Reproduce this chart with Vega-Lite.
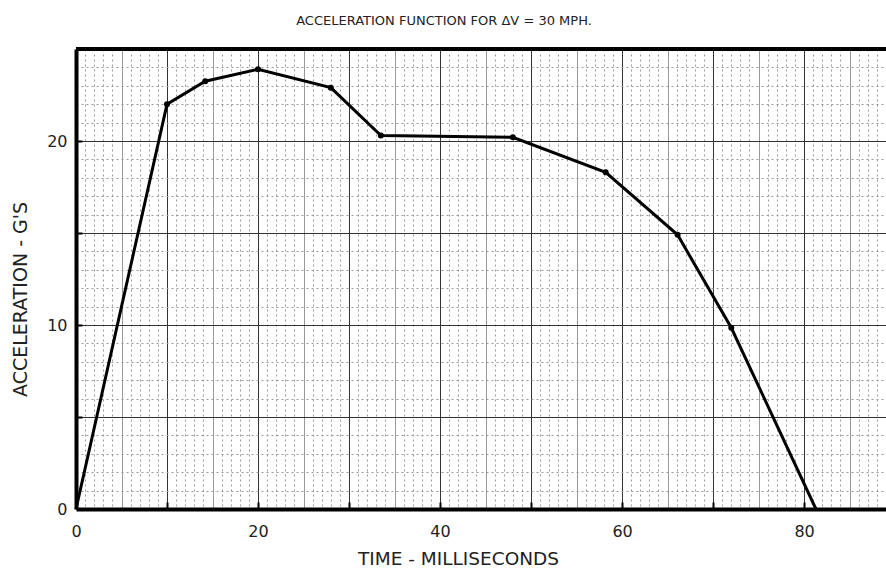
{
  "$schema": "https://vega.github.io/schema/vega-lite/v6.json",
  "width": 810,
  "height": 460,
  "autosize": {"type": "none"},
  "padding": {"left": 76, "top": 49, "right": 0, "bottom": 63},
  "background": "white",
  "config": {"view": {"stroke": null}, "font": "DejaVu Sans"},
  "title": {
    "text": "ACCELERATION FUNCTION FOR ΔV = 30 MPH.",
    "fontSize": 13,
    "fontWeight": "normal",
    "font": "DejaVu Sans",
    "color": "#222",
    "anchor": "middle",
    "frame": "group",
    "dx": -37,
    "offset": 3,
    "baseline": "alphabetic"
  },
  "data": {
    "values": [
      {"time": 0, "acc": 0, "dot": false},
      {"time": 10, "acc": 22, "dot": true},
      {"time": 14.2, "acc": 23.25, "dot": true},
      {"time": 20, "acc": 23.9, "dot": true},
      {"time": 28, "acc": 22.9, "dot": true},
      {"time": 33.5, "acc": 20.3, "dot": true},
      {"time": 48, "acc": 20.2, "dot": true},
      {"time": 58.2, "acc": 18.3, "dot": true},
      {"time": 66.1, "acc": 14.9, "dot": true},
      {"time": 72, "acc": 9.85, "dot": true},
      {"time": 81.3, "acc": 0, "dot": false}
    ]
  },
  "layer": [
    {
      "mark": {"type": "line", "color": "black", "strokeWidth": 3},
      "encoding": {
        "x": {
          "field": "time",
          "type": "quantitative",
          "scale": {"domain": [0, 89], "nice": false, "zero": false},
          "axis": {
            "tickCount": 89,
            "format": "d",
            "labelExpr": "datum.value % 20 === 0 ? datum.label : ''",
            "labelFontSize": 16,
            "labelFont": "DejaVu Sans",
            "labelColor": "#222",
            "labelPadding": 21,
            "labelFlush": false,
            "labelOverlap": false,
            "tickSize": -7,
            "tickWidth": 2,
            "tickColor": "black",
            "tickOpacity": {"condition": {"test": "datum.value % 10 === 0 && datum.value > 0", "value": 1}, "value": 0},
            "domainColor": "black",
            "domainWidth": 4,
            "grid": true,
            "gridColor": {"condition": {"test": "datum.value % 10 === 0", "value": "#333"}, "value": "#999999"},
            "gridDash": {"condition": {"test": "datum.value % 5 === 0", "value": []}, "value": [2, 3]},
            "gridWidth": 1,
            "gridOpacity": 1,
            "title": "TIME - MILLISECONDS",
            "titleFont": "DejaVu Sans",
            "titleFontSize": 18.5,
            "titleFontWeight": "normal",
            "titleColor": "#222",
            "titleX": 382,
            "titleY": 49,
            "titleAlign": "center",
            "titleBaseline": "middle"
          }
        },
        "y": {
          "field": "acc",
          "type": "quantitative",
          "scale": {"domain": [0, 25], "nice": false},
          "axis": {
            "tickCount": 50,
            "format": "d",
            "labelExpr": "datum.value % 10 === 0 ? datum.label : ''",
            "labelFontSize": 16,
            "labelFont": "DejaVu Sans",
            "labelColor": "#222",
            "labelPadding": 15,
            "labelFlush": false,
            "labelOverlap": false,
            "tickSize": -6,
            "tickWidth": 2,
            "tickColor": "black",
            "tickOpacity": {"condition": {"test": "datum.value % 5 === 0 && datum.value > 0", "value": 1}, "value": 0},
            "domainColor": "black",
            "domainWidth": 4,
            "grid": true,
            "gridColor": {"condition": {"test": "datum.value % 5 === 0", "value": "#333"}, "value": "#999999"},
            "gridDash": {"condition": {"test": "datum.value % 5 === 0", "value": []}, "value": [2, 3]},
            "gridWidth": 1,
            "gridOpacity": 1,
            "title": "ACCELERATION - G'S",
            "titleFont": "DejaVu Sans",
            "titleFontSize": 19,
            "titleFontWeight": "normal",
            "titleColor": "#222",
            "titleAngle": -90,
            "titleX": -56,
            "titleY": 250,
            "titleAlign": "center",
            "titleBaseline": "middle"
          }
        }
      }
    },
    {
      "transform": [{"filter": "datum.dot"}],
      "mark": {"type": "point", "filled": true, "color": "black", "size": 36, "opacity": 1},
      "encoding": {
        "x": {"field": "time", "type": "quantitative"},
        "y": {"field": "acc", "type": "quantitative"}
      }
    },
    {
      "mark": {"type": "rule", "color": "black", "strokeWidth": 3},
      "encoding": {
        "y": {"datum": 25, "type": "quantitative"}
      }
    }
  ]
}
